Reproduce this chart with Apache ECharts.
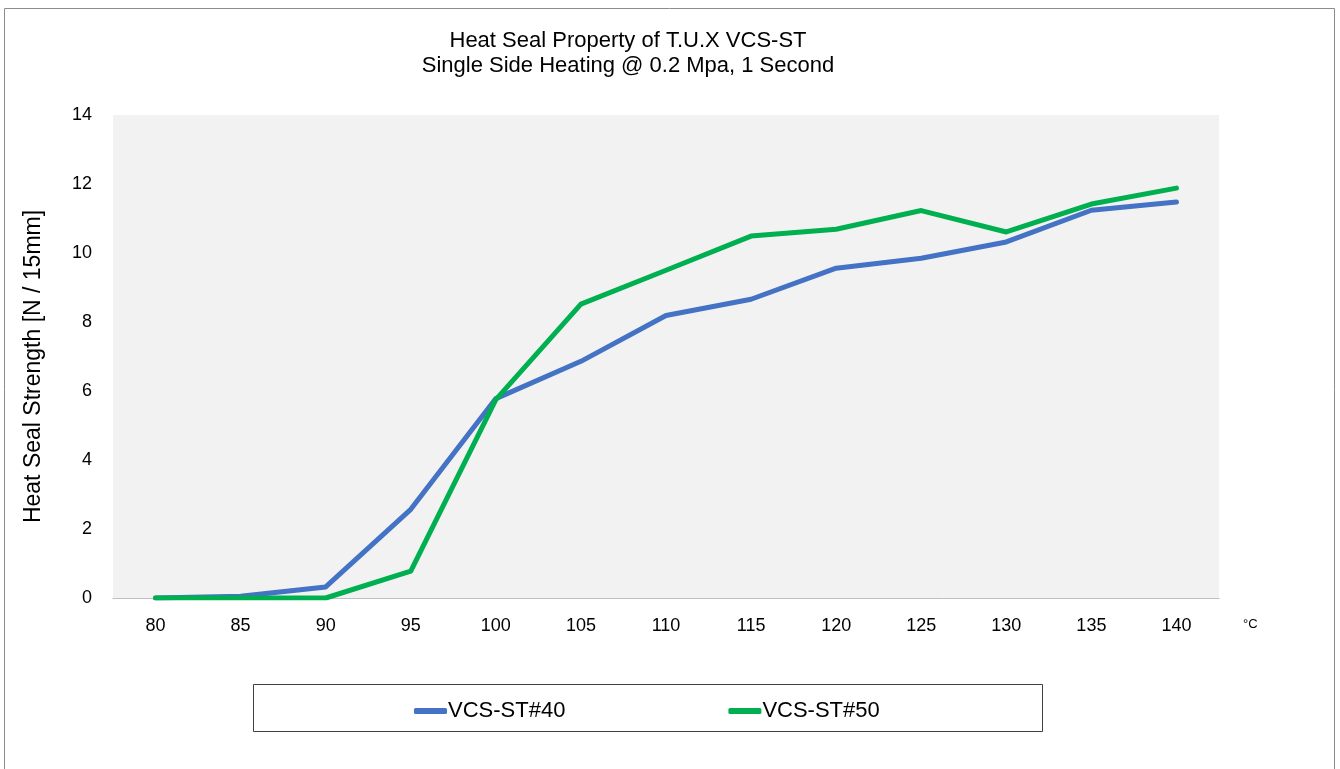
<!DOCTYPE html>
<html>
	<head>
		<meta charset="UTF-8">
		<title></title>
		<script src="https://cdn.jsdelivr.net/npm/echarts@6/dist/echarts.min.js"></script>
	</head>
	<style>
		body{ margin: 0; }
		#chart{
			width: 1340px;
			height: 769px;
		}
	</style>
	<body>
		<div id='chart'></div>
	<script>
	var temps = ['80', '85', '90', '95', '100', '105', '110', '115', '120', '125', '130', '135', '140'];
	var st40 = [0, 0.05, 0.32, 2.57, 5.78, 6.86, 8.19, 8.66, 9.56, 9.85, 10.32, 11.24, 11.48];
	var st50 = [0, 0, 0, 0.78, 5.75, 8.52, 9.5, 10.49, 10.69, 11.23, 10.61, 11.42, 11.88];
	var seriesNames = ['VCS-ST#40', 'VCS-ST#50'];
	var colors = ['#4472C4', '#00B050'];
	var font = 'Liberation Sans, Arial, sans-serif';

	var chart = echarts.init(document.getElementById('chart'));

	var option = {
		backgroundColor: '#fff',
		animation: false,
		color: colors,
		title: [
			{ text: 'Heat Seal Property of T.U.X VCS-ST', left: 623, top: 25, textAlign: 'center',
			  textStyle: { fontFamily: font, fontSize: 22, fontWeight: 'normal', color: '#000' } },
			{ text: 'Single Side Heating @ 0.2 Mpa, 1 Second', left: 623, top: 50, textAlign: 'center',
			  textStyle: { fontFamily: font, fontSize: 22, fontWeight: 'normal', color: '#000' } }
		],
		legend: {
			left: 409,
			top: 695,
			itemWidth: 33,
			itemHeight: 6,
			itemGap: 163,
			icon: 'roundRect',
			textStyle: { fontFamily: font, fontSize: 22, color: '#000', padding: [0, 0, 0, -4] },
			data: seriesNames
		},
		grid: {
			left: 113, right: 121, top: 115, bottom: 171,
			show: true, backgroundColor: '#F2F2F2', borderWidth: 0
		},
		xAxis: {
			type: 'category',
			data: temps,
			boundaryGap: true,
			axisLine: { lineStyle: { color: '#BFBFBF', width: 1 } },
			axisTick: { alignWithLabel: true, inside: true, length: 5, lineStyle: { color: '#BFBFBF' } },
			axisLabel: { margin: 19, fontFamily: font, fontSize: 18, color: '#000' }
		},
		yAxis: {
			type: 'value',
			min: 0, max: 14, interval: 2,
			name: 'Heat Seal Strength [N / 15mm]',
			nameLocation: 'middle',
			nameGap: 68,
			nameTextStyle: { fontFamily: font, fontSize: 23, color: '#000', padding: [0, 20, 0, 0] },
			axisLine: { show: false },
			axisTick: { show: false },
			splitLine: { show: false },
			axisLabel: { margin: 21, fontFamily: font, fontSize: 18, color: '#000' }
		},
		graphic: [
			{ type: 'rect', shape: { x: 4.5, y: 8.5, width: 1330, height: 780 }, silent: true,
			  style: { fill: 'none', stroke: '#8c8c8c', lineWidth: 1 } },
			{ type: 'rect', shape: { x: 253.5, y: 684.5, width: 789, height: 47 }, silent: true,
			  style: { fill: 'none', stroke: '#404040', lineWidth: 1 } },
			{ type: 'text', x: 1243, y: 618, silent: true,
			  style: { text: '°C', fontFamily: font, fontSize: 13, fill: '#000' } }
		],
		series: [
			{ name: seriesNames[0], type: 'line', data: st40, symbol: 'none',
			  lineStyle: { width: 5, cap: 'round', join: 'round' } },
			{ name: seriesNames[1], type: 'line', data: st50, symbol: 'none',
			  lineStyle: { width: 5, cap: 'round', join: 'round' } }
		]
	};

	chart.setOption(option);
	</script>
	</body>
</html>
